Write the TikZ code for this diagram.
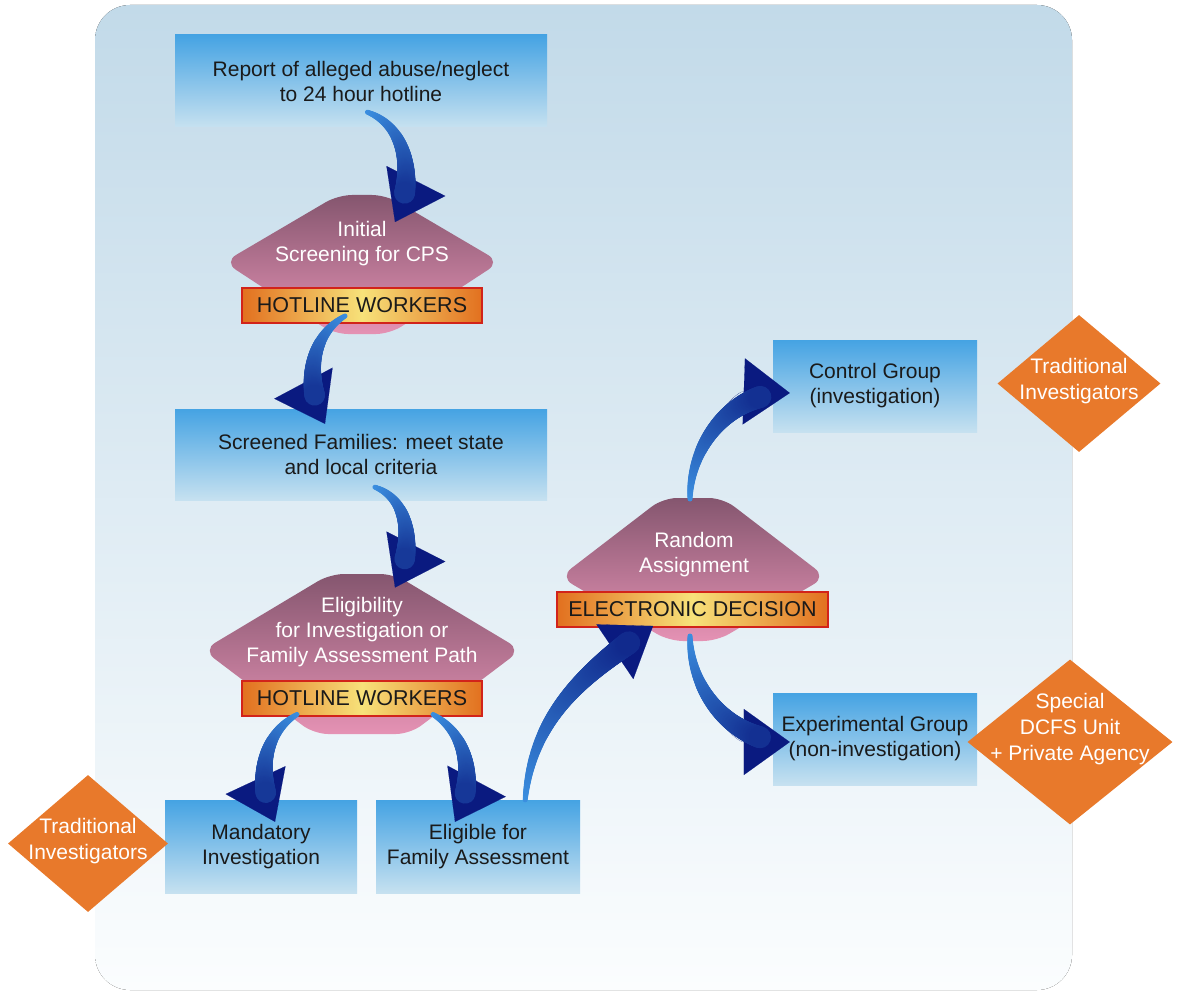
\documentclass[tikz,border=0pt]{standalone}
\usepackage{fontspec}
\setmainfont{Liberation Sans}
\usepackage{tikz}
\usetikzlibrary{shapes.geometric, arrows.meta, decorations.markings}

\definecolor{boxtop}{HTML}{45A3E3}
\definecolor{boxbottom}{HTML}{C6E1F0}
\definecolor{screentop}{HTML}{85566F}
\definecolor{screenbottom}{HTML}{E592B4}
\definecolor{bandedge}{HTML}{E2701F}
\definecolor{bandmid}{HTML}{F7E27A}
\definecolor{bandline}{HTML}{D2231A}
\definecolor{agentfill}{HTML}{E8792B}
\definecolor{flowlight}{HTML}{3B8FE0}
\definecolor{flowdark}{HTML}{0A1A80}
\definecolor{bgtop}{HTML}{C2DAE9}
\definecolor{bgbottom}{HTML}{FBFDFE}
\definecolor{inktext}{HTML}{1A1A1A}

\tikzset{
    box/.style={rectangle, top color=boxtop, bottom color=boxbottom, text=inktext,
        align=center, font=\fontsize{21}{25}\selectfont, minimum height=92pt},
    screenshape/.style={top color=screentop, bottom color=screenbottom, rounded corners=14pt},
    screentext/.style={text=white, align=center, font=\fontsize{21}{25}\selectfont},
    band/.style={rectangle, draw=bandline, line width=2pt, left color=bandedge,
        right color=bandedge, middle color=bandmid, text=inktext,
        font=\fontsize{21.5}{25}\selectfont, minimum height=35pt, inner sep=0pt},
    agent/.style={diamond, fill=agentfill, inner sep=0pt},
    agenttext/.style={text=white, align=center, font=\fontsize{21}{26}\selectfont},
    % tapered shaft: light and thin at the tail, dark and wide near the head
    flow/.style={line width=0.1pt, draw=flowdark,
        -{Triangle[length=46pt, width=66pt, color=flowdark]},
        postaction={decorate, decoration={markings,
            mark=between positions 0 and -30pt step 1pt with {
                \pgfmathsetmacro\flowpos{\pgfkeysvalueof{/pgf/decoration/mark info/distance from start}/\pgfdecoratedpathlength}
                \pgfmathsetmacro\flowpct{100*\flowpos}
                \fill[flowdark!\flowpct!flowlight] (0,0) circle ({2.5pt+10.5pt*\flowpos});
            }}}},
}

\begin{document}
\begin{tikzpicture}[x=1pt, y=1pt]
        \useasboundingbox (0,0) rectangle (1177,-992);
        \fill[top color=bgtop, bottom color=bgbottom, rounded corners=35pt] (95,-5) rectangle (1072,-990);

        \node[box, minimum width=372pt] (report) at (361,-81) {Report of alleged abuse/neglect\\to 24 hour hotline};

        % screening steps
        \path[screenshape] (224,-262) -- (338,-195) -- (386,-195) -- (500,-262) -- (390,-334) -- (334,-334) -- cycle;
        \node[screentext] (initial) at (362,-244) {Initial\\Screening for CPS};
        \node[band, minimum width=240pt] (hotline1) at (362,-305.5) {HOTLINE WORKERS};

        \node[box, minimum width=372pt, minimum height=91pt] (screened) at (361,-454.5) {Screened Families: meet state\\and local criteria};

        \path[screenshape] (203,-650) -- (330,-574) -- (394,-574) -- (521,-650) -- (410,-734) -- (314,-734) -- cycle;
        \node[screentext] (eligibility) at (362,-632) {Eligibility\\for Investigation or\\Family Assessment Path};
        \node[band, minimum width=240pt] (hotline2) at (362,-698) {HOTLINE WORKERS};

        \node[box, minimum width=192pt, minimum height=93pt] (mandatory) at (261,-846.5) {Mandatory\\Investigation};
        \node[box, minimum width=204pt, minimum height=93pt] (eligible) at (478,-846.5) {Eligible for\\Family Assessment};

        \path[screenshape] (560,-577) -- (663,-498) -- (723,-498) -- (826,-577) -- (717,-641) -- (669,-641) -- cycle;
        \node[screentext] (random) at (694,-555) {Random\\Assignment};
        \node[band, minimum width=271pt] (electronic) at (692.5,-609.5) {ELECTRONIC DECISION};

        \node[box, minimum width=204pt] (control) at (875,-386) {Control Group\\(investigation)};
        \node[box, minimum width=204pt] (experimental) at (875,-739) {Experimental Group\\(non-investigation)};

        % who handles each path
        \node[agent, minimum width=160pt, minimum height=137pt] (tradleft) at (88,-843.5) {};
        \node[agenttext] (tradlefttext) at (88,-841) {Traditional\\Investigators};
        \node[agent, minimum width=163pt, minimum height=137pt] (tradright) at (1079,-383.5) {};
        \node[agenttext] (tradrighttext) at (1079,-381) {Traditional\\Investigators};
        \node[agent, minimum width=205pt, minimum height=165pt] (special) at (1070,-742) {};
        \node[agenttext] (specialtext) at (1070,-729) {Special\\DCFS Unit\\+ Private Agency};

        \draw[flow] ([xshift=6.5pt, yshift=15pt]report.south) to[out=-20, in=63] ([xshift=33pt, yshift=65pt]hotline1.north);
        \draw[flow] ([xshift=-17pt, yshift=8pt]hotline1.south) to[out=210, in=118] ([xshift=-36pt, yshift=-15pt]screened.north);
        \draw[flow] ([xshift=14pt, yshift=13pt]screened.south) to[out=-20, in=63] ([xshift=33pt, yshift=92pt]hotline2.north);
        \draw[flow] ([xshift=-65pt, yshift=2pt]hotline2.south) to[out=210, in=115] ([xshift=14pt, yshift=-22pt]mandatory.north);
        \draw[flow] ([xshift=71pt, yshift=2pt]hotline2.south) to[out=-30, in=62] ([xshift=-23pt, yshift=-22pt]eligible.north);
        \draw[flow] ([xshift=-55pt]eligible.north east) to[out=85, in=214] ([xshift=-39.5pt, yshift=2pt]electronic.south);
        \draw[flow] ([xshift=-2.5pt, yshift=92pt]electronic.north) to[out=90, in=178] ([xshift=17pt, yshift=-7pt]control.west);
        \draw[flow] ([xshift=-2.5pt, yshift=-8pt]electronic.south) to[out=-90, in=180] ([xshift=17pt, yshift=-3pt]experimental.west);
    \end{tikzpicture}
\end{document}
